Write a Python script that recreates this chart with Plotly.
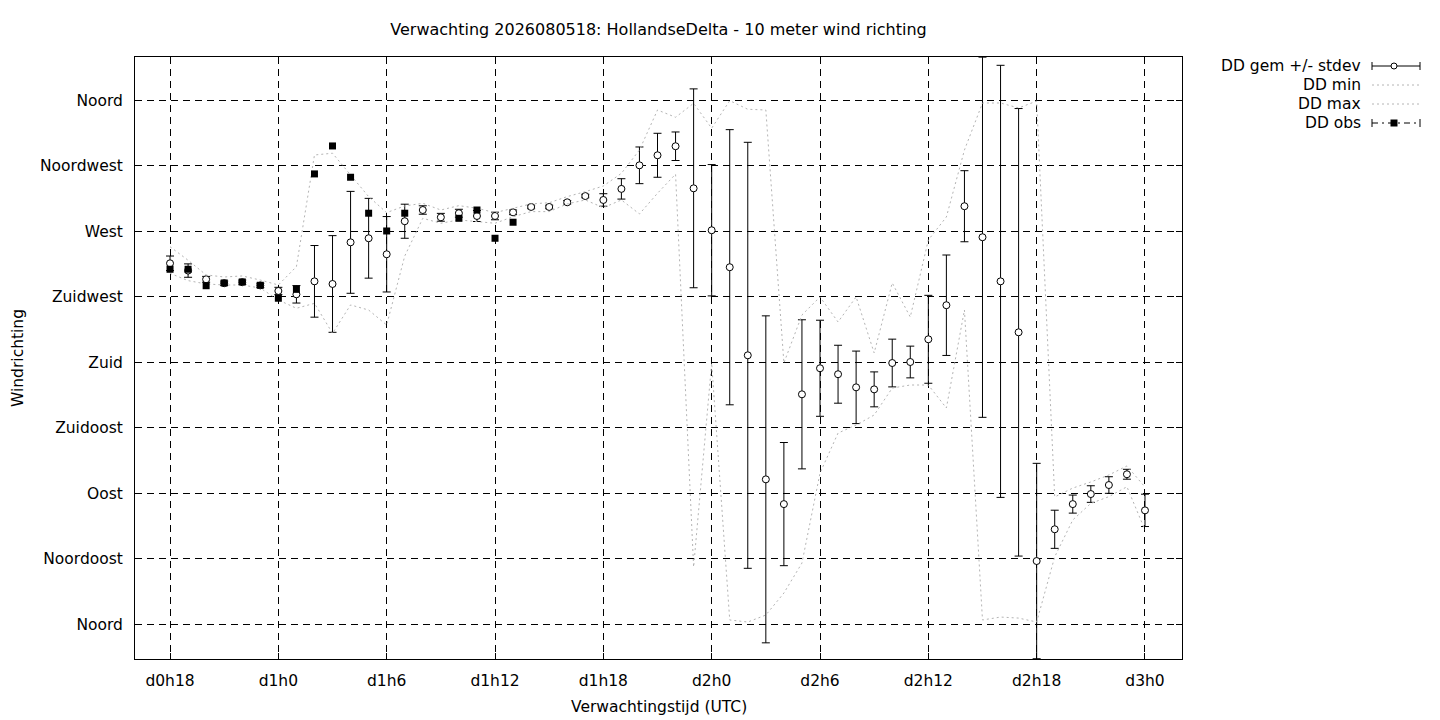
import plotly.graph_objects as go

# ---------------- data (hours since d0h0, degrees) ----------------
hours = list(range(18, 73))

dd_mean = [248.0, 243.0, 237.0, 234.3, 235.0, 232.8, 229.0, 226.7, 235.6, 233.8,
           262.4, 265.2, 254.2, 276.9, 284.6, 279.6, 282.4, 280.5, 280.5, 283.0,
           286.7, 286.7, 289.9, 294.2, 291.5, 299.1, 315.3, 322.2, 328.4, 299.5,
           270.7, 245.3, 184.8, 99.6, 82.6, 158.0, 175.9, 171.8, 162.8, 161.4,
           179.5, 180.2, 195.8, 219.2, 287.2, 265.9, 235.6, 200.6, 43.5, 65.3,
           82.6, 89.5, 95.7, 103.1, 78.3]

dd_stdev = [5.0, 4.6, 2.0, 1.5, 1.5, 1.5, 2.5, 6.0, 24.6, 33.2,
            35.0, 27.4, 25.9, 11.7, 2.9, 2.7, 2.7, 3.8, 2.6, 1.6,
            1.2, 1.2, 1.2, 1.2, 4.3, 7.0, 12.6, 15.1, 9.8, 68.3,
            45.1, 94.5, 146.3, 112.3, 42.3, 51.2, 33.0, 19.9, 24.9, 12.0,
            16.4, 10.9, 30.2, 34.5, 24.4, 123.7, 148.4, 153.7, 67.1, 13.1,
            6.2, 5.7, 5.7, 3.4, 11.1]

dd_min = [241.1, 236.1, 233.8, 233.1, 233.1, 231.0, 222.8, 217.1, 220.5, 199.9,
          219.4, 215.9, 205.6, 253.0, 278.9, 275.5, 277.8, 276.6, 275.5, 280.0,
          283.5, 283.5, 288.8, 291.5, 286.2, 291.5, 281.9, 296.1, 309.2, 39.4,
          179.5, 3.0, 1.6, 6.4, 21.5, 42.1, 103.9, 131.4, 136.9, 143.8,
          162.3, 164.4, 164.4, 148.6, 215.9, 3.0, 5.0, 4.3, 1.6, 46.4,
          71.7, 83.1, 87.7, 94.5, 64.8]

dd_max = [259.4, 250.1, 240.0, 238.6, 239.3, 236.5, 233.1, 245.7, 322.4, 323.6,
          308.7, 293.8, 282.8, 287.4, 289.2, 284.6, 287.6, 285.8, 282.8, 285.8,
          288.8, 289.6, 293.8, 297.2, 301.1, 309.8, 325.8, 353.3, 348.3, 357.9,
          340.8, 359.7, 353.8, 353.3, 179.5, 212.5, 224.9, 207.7, 224.9, 186.4,
          234.5, 211.1, 264.0, 279.8, 325.8, 358.1, 358.1, 354.7, 359.4, 87.5,
          93.6, 97.8, 102.6, 108.8, 94.3]

obs_hours = list(range(18, 38))
dd_obs = [243.9, 243.9, 232.6, 234.5, 235.2, 232.9, 224.0, 230.1, 309.4, 328.6,
          307.1, 282.4, 270.2, 282.4, None, None, 278.9, 284.6, 265.2, 276.2]

x_tickvals = [18, 24, 30, 36, 42, 48, 54, 60, 66, 72]
x_ticktext = ["d0h18", "d1h0", "d1h6", "d1h12", "d1h18", "d2h0", "d2h6", "d2h12", "d2h18", "d3h0"]
y_tickvals = [0, 45, 90, 135, 180, 225, 270, 315, 360]
y_ticktext = ["Noord", "Noordoost", "Oost", "Zuidoost", "Zuid", "Zuidwest", "West", "Noordwest", "Noord"]

title_text = "Verwachting 2026080518: HollandseDelta - 10 meter wind richting"
legend_names = ["DD gem +/- stdev", "DD min", "DD max", "DD obs"]

# ---------------- figure ----------------
FONT = "DejaVu Sans"
FS = 15.5
OFF = 8  # browser default body margin
W, H = 1440 - OFF, 720 - OFF
L, R, T, B = 135 - OFF, 1182 - OFF, 57 - OFF, 659 - OFF
GRAY = "#b4b4b4"

fig = go.Figure()

fig.add_trace(go.Scatter(
    x=hours, y=dd_mean, mode="markers", name=legend_names[0],
    marker=dict(symbol="circle", size=7, color="white", line=dict(color="black", width=1)),
    error_y=dict(type="data", array=dd_stdev, symmetric=True, color="black", thickness=1, width=4),
    showlegend=False))

fig.add_trace(go.Scatter(
    x=hours, y=dd_min, mode="lines", name=legend_names[1],
    line=dict(color=GRAY, width=1, dash="2px,3px"), showlegend=False))

fig.add_trace(go.Scatter(
    x=hours, y=dd_max, mode="lines", name=legend_names[2],
    line=dict(color=GRAY, width=1, dash="2px,3px"), showlegend=False))

fig.add_trace(go.Scatter(
    x=obs_hours, y=dd_obs, mode="markers", name=legend_names[3],
    marker=dict(symbol="square", size=7, color="black", line=dict(color="black", width=0)),
    showlegend=False))


def px(xp):
    """reference-screen x pixel -> paper coordinate"""
    return (xp - OFF - L) / (R - L)


def py(yp):
    """reference-screen y pixel -> paper coordinate"""
    return (B - (yp - OFF)) / (B - T)


shapes = []
annotations = []

# manual gnuplot-style legend (text right aligned, sample on the right)
rows_y = [66, 85, 104, 123]
sx0, sx1, smid = 1372, 1420, 1394
for i, name in enumerate(legend_names):
    yy = rows_y[i]
    annotations.append(dict(xref="paper", yref="paper", x=px(1363), y=py(yy), text=name,
                            showarrow=False, xanchor="right", yanchor="middle",
                            font=dict(family=FONT, size=FS, color="black")))

# row 1: errorbar sample
y1 = rows_y[0]
shapes.append(dict(type="line", xref="paper", yref="paper", x0=px(sx0), x1=px(sx1), y0=py(y1), y1=py(y1),
                   line=dict(color="black", width=1)))
for xe in (sx0, sx1):
    shapes.append(dict(type="line", xref="paper", yref="paper", x0=px(xe), x1=px(xe),
                       y0=py(y1 - 4), y1=py(y1 + 4), line=dict(color="black", width=1)))
shapes.append(dict(type="circle", xref="paper", yref="paper", xsizemode="pixel", ysizemode="pixel",
                   xanchor=px(smid), yanchor=py(y1), x0=-3, x1=3, y0=-3, y1=3,
                   fillcolor="white", line=dict(color="black", width=1)))
# rows 2,3: dotted gray
for yy in rows_y[1:3]:
    shapes.append(dict(type="line", xref="paper", yref="paper", x0=px(sx0), x1=px(sx1), y0=py(yy), y1=py(yy),
                       line=dict(color=GRAY, width=1, dash="2px,3px")))
# row 4: dash-dot with square
y4 = rows_y[3]
shapes.append(dict(type="line", xref="paper", yref="paper", x0=px(sx0), x1=px(sx1), y0=py(y4), y1=py(y4),
                   line=dict(color="black", width=1, dash="6px,4px,2px,4px")))
for xe in (sx0, sx1):
    shapes.append(dict(type="line", xref="paper", yref="paper", x0=px(xe), x1=px(xe),
                       y0=py(y4 - 4), y1=py(y4 + 4), line=dict(color="black", width=1)))
shapes.append(dict(type="rect", xref="paper", yref="paper", xsizemode="pixel", ysizemode="pixel",
                   xanchor=px(smid), yanchor=py(y4), x0=-3.5, x1=3.5, y0=-3.5, y1=3.5,
                   fillcolor="black", line=dict(color="black", width=0)))

# axis titles
annotations.append(dict(xref="paper", yref="paper", x=0.5, y=py(707), text="Verwachtingstijd (UTC)",
                        showarrow=False, xanchor="center", yanchor="middle",
                        font=dict(family=FONT, size=FS, color="black")))
annotations.append(dict(xref="paper", yref="paper", x=px(18), y=py(358), text="Windrichting",
                        showarrow=False, xanchor="center", yanchor="middle", textangle=-90,
                        font=dict(family=FONT, size=FS, color="black")))

fig.update_layout(
    width=W, height=H,
    margin=dict(l=L, r=W - R, t=T, b=H - B, autoexpand=False),
    paper_bgcolor="white", plot_bgcolor="white",
    font=dict(family=FONT, size=FS, color="black"),
    title=dict(text=title_text, x=0.5, xref="paper", xanchor="center", y=1 - (29 - OFF) / H, yanchor="middle",
               font=dict(family=FONT, size=16, color="black")),
    shapes=shapes, annotations=annotations,
    showlegend=False,
)

fig.update_xaxes(
    range=[16.06, 74.05], tickmode="array", tickvals=x_tickvals, ticktext=x_ticktext,
    showgrid=True, gridcolor="black", gridwidth=1, griddash="7px,5px",
    showline=True, linecolor="black", linewidth=1, mirror="allticks",
    ticks="inside", ticklen=6, tickcolor="black", ticklabelstandoff=7,
    zeroline=False, tickfont=dict(family=FONT, size=FS, color="black"))

fig.update_yaxes(
    range=[-23.8, 389.7], tickmode="array", tickvals=y_tickvals, ticktext=y_ticktext,
    showgrid=True, gridcolor="black", gridwidth=1, griddash="7px,5px",
    showline=True, linecolor="black", linewidth=1, mirror="allticks",
    ticks="inside", ticklen=6, tickcolor="black", ticklabelstandoff=8,
    zeroline=False, tickfont=dict(family=FONT, size=FS, color="black"))

fig.write_html("out.html")
